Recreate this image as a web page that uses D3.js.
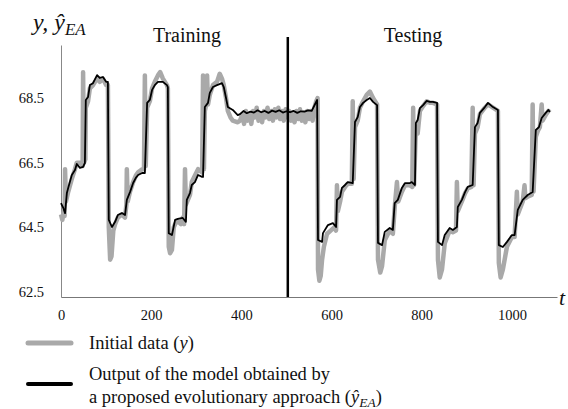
<!DOCTYPE html>
<html>

<head>
    <meta charset="utf-8">
    <title>Training / Testing</title>
    <script src="https://d3js.org/d3.v7.min.js"></script>
    <style>
        body {
            margin: 0;
            background: #fff;
        }

        svg text {
            font-family: "Liberation Serif", "Times New Roman", serif;
            fill: #111;
        }
    </style>
</head>

<body>
    <div class="inner"></div>
    <script>
        // [t, value]
        const initialData = [
            [0, 64.9], [3, 64.73], [6, 65.0], [8, 64.85], [9, 66.3], [11, 65.3], [16, 65.6], [24, 66.0], [31, 66.3],
            [35, 66.5], [42, 66.5], [48, 66.4], [49, 69.3], [51, 66.5], [54, 66.6], [55, 68.2], [60, 68.4],
            [64, 68.8], [71, 68.9], [80, 69.1], [86, 69.0], [93, 69.1], [100, 68.9], [104, 68.9], [106, 64.5],
            [109, 63.5], [112, 63.6], [116, 64.4], [120, 64.6], [126, 64.8], [135, 64.9], [142, 64.8], [145, 65.2],
            [146, 66.3], [148, 65.3], [153, 65.6], [160, 65.9], [166, 66.1], [171, 66.2], [180, 66.3], [184, 66.3],
            [186, 69.2], [188, 66.4], [191, 68.2], [197, 68.4], [202, 68.8], [208, 69.0], [215, 69.2], [220, 69.3],
            [226, 69.1], [235, 68.9], [237, 68.8], [239, 63.9], [242, 63.7], [246, 63.8], [250, 64.5], [253, 64.6],
            [259, 64.7], [266, 64.6], [270, 64.8], [273, 64.6], [275, 66.3], [277, 65.2], [286, 65.5], [290, 65.9],
            [297, 66.1], [304, 66.3], [313, 66.2], [315, 69.2], [317, 66.3], [319, 68.1], [322, 68.3], [324, 69.2],
            [326, 68.3], [330, 68.6], [337, 68.9], [346, 69.0], [352, 69.25], [357, 69.1], [361, 68.9], [366, 68.5],
            [370, 68.1], [376, 67.9], [381, 67.8], [392, 67.75], [397, 67.8], [402, 68.0], [406, 67.7], [410, 68.1],
            [414, 67.8], [418, 68.0], [422, 67.7], [426, 68.1], [430, 67.9], [434, 68.2], [438, 67.8], [442, 68.0],
            [446, 67.75], [450, 68.1], [454, 67.9], [458, 68.2], [462, 67.85], [466, 68.1], [470, 67.8], [474, 68.15],
            [478, 67.9], [482, 68.2], [486, 67.85], [490, 68.1], [494, 67.8], [498, 68.15], [502, 67.9], [506, 68.1],
            [510, 67.8], [514, 68.05], [518, 67.75], [522, 68.1], [526, 67.85], [530, 68.15], [534, 67.8], [538, 68.05],
            [542, 67.75], [546, 68.1], [550, 67.85], [554, 68.1], [558, 67.8], [562, 68.2], [566, 68.4], [569, 68.5],
            [570, 63.2], [573, 62.85], [576, 63.0], [579, 63.5], [583, 63.9], [590, 64.3], [598, 64.4], [606, 64.5],
            [610, 64.4], [612, 65.8], [614, 65.0], [619, 65.3], [623, 65.6], [630, 65.75], [636, 65.85], [645, 65.85],
            [647, 68.4], [649, 66.0], [652, 67.6], [658, 67.8], [663, 68.2], [670, 68.4], [678, 68.6], [685, 68.7],
            [692, 68.5], [701, 68.3], [703, 63.5], [708, 63.1], [712, 63.3], [718, 64.1], [729, 64.4], [736, 64.3],
            [740, 65.1], [745, 65.9], [748, 65.3], [756, 65.6], [763, 65.8], [774, 65.8], [779, 65.75], [781, 68.2],
            [783, 65.8], [787, 67.6], [791, 67.4], [796, 68.1], [803, 68.25], [811, 68.4], [818, 68.35], [825, 68.35],
            [834, 68.3], [836, 63.5], [840, 62.95], [845, 63.2], [851, 64.0], [862, 64.4], [869, 64.35], [876, 64.4],
            [878, 65.9], [880, 65.0], [889, 65.3], [896, 65.55], [902, 65.7], [910, 65.75], [913, 68.2], [915, 65.8],
            [918, 67.4], [924, 67.6], [929, 68.0], [940, 68.2], [947, 68.3], [958, 68.2], [969, 68.1], [971, 63.4],
            [975, 62.95], [980, 63.2], [989, 63.9], [1000, 64.2], [1006, 64.2], [1011, 65.6], [1013, 64.9], [1024, 65.3],
            [1028, 65.8], [1030, 65.4], [1035, 65.45], [1044, 65.5], [1046, 68.3], [1048, 65.6], [1053, 67.3], [1058, 67.5],
            [1062, 67.6], [1066, 68.3], [1068, 67.8], [1076, 68.0], [1081, 68.1], [1084, 68.05]
        ]

        const modelOutput = [
            [0, 65.25], [5, 65.1], [9, 64.94], [13, 65.56], [16, 65.72], [24, 66.12], [31, 66.27], [35, 66.46],
            [42, 66.34], [49, 66.37], [53, 66.49], [55, 68.44], [60, 68.53], [64, 68.9], [71, 68.96], [80, 69.21],
            [86, 69.12], [93, 69.15], [100, 69.0], [104, 69.0], [106, 64.73], [113, 64.51], [120, 64.67], [126, 64.88],
            [135, 64.94], [142, 64.88], [146, 65.35], [153, 65.59], [160, 65.87], [166, 66.03], [171, 66.12], [180, 66.18],
            [186, 66.18], [191, 68.35], [197, 68.44], [202, 68.75], [208, 68.9], [215, 69.0], [226, 69.0], [235, 68.9],
            [237, 68.84], [239, 64.32], [246, 64.26], [253, 64.73], [259, 64.76], [270, 64.79], [277, 64.67], [279, 65.35],
            [286, 65.56], [290, 65.81], [297, 65.9], [304, 66.12], [313, 66.06], [315, 66.06], [319, 68.22], [326, 68.35],
            [330, 68.66], [337, 68.84], [346, 68.9], [357, 68.96], [361, 68.84], [366, 68.5], [370, 68.22], [381, 68.13],
            [392, 67.97], [397, 68.0], [405, 68.1], [412, 68.03], [420, 68.08], [428, 68.05], [436, 68.12], [444, 68.06],
            [452, 68.1], [460, 68.04], [468, 68.11], [476, 68.07], [484, 68.12], [492, 68.05], [500, 68.09], [508, 68.06],
            [516, 68.1], [524, 68.04], [532, 68.09], [540, 68.08], [548, 68.12], [556, 68.1], [563, 68.3], [568, 68.44],
            [570, 64.11], [579, 64.05], [581, 64.32], [592, 64.57], [603, 64.63], [610, 64.51], [612, 65.35], [619, 65.44],
            [623, 65.72], [630, 65.81], [636, 65.9], [647, 65.87], [652, 67.76], [658, 67.91], [663, 68.22], [670, 68.35],
            [678, 68.44], [685, 68.5], [692, 68.38], [701, 68.28], [703, 64.02], [712, 63.95], [718, 64.36], [729, 64.48],
            [736, 64.42], [740, 65.25], [747, 65.35], [756, 65.72], [763, 65.87], [774, 65.87], [778, 65.9], [785, 65.81],
            [787, 67.73], [791, 67.82], [796, 68.19], [803, 68.28], [811, 68.41], [818, 68.38], [825, 68.38], [834, 68.35],
            [836, 64.05], [845, 63.95], [851, 64.26], [862, 64.48], [869, 64.42], [878, 64.51], [880, 65.13], [889, 65.35],
            [896, 65.59], [902, 65.75], [913, 65.81], [918, 67.6], [924, 67.73], [929, 68.04], [940, 68.22], [947, 68.35],
            [958, 68.22], [969, 68.13], [971, 63.95], [980, 63.89], [989, 64.05], [1000, 64.26], [1006, 64.26], [1013, 65.04],
            [1024, 65.35], [1035, 65.5], [1046, 65.59], [1053, 67.51], [1060, 67.6], [1066, 67.88], [1075, 68.04],
            [1081, 68.13], [1084, 68.07]
        ]

        const xTicks = [0, 200, 400, 600, 800, 1000]
        const yTicks = [62.5, 64.5, 66.5, 68.5]
        const splitAt = 503 // end of training part

        const w = 568
        const h = 409

        const xScale = d3.scaleLinear()
            .domain([0, 1100])
            .range([61, 557])

        const yScale = d3.scaleLinear()
            .domain([62.345, 70.14])
            .range([297, 45])

        const svg = d3.select(".inner")
            .append("svg")
            .attr("width", w)
            .attr("height", h)
            .attr("font-family", "Liberation Serif")

        const line = d3.line()
            .x(d => xScale(d[0]))
            .y(d => yScale(d[1]))

        // y axis: line + labels only
        const yAxis = d3.axisLeft(yScale).tickValues(yTicks).tickFormat(d3.format(".1f")).tickSize(0).tickPadding(17)
        const gy = svg.append("g")
            .attr("transform", "translate(" + xScale(0) + ",0)")
            .call(yAxis)
        gy.attr("font-family", "Liberation Serif").attr("font-size", 14.5)
        gy.select(".domain").attr("stroke", "#888").attr("stroke-width", 1)
        gy.selectAll("text").attr("fill", "#222")

        const xAxis = d3.axisBottom(xScale).tickValues(xTicks).tickFormat(d3.format("d")).tickSize(0).tickPadding(13)
        const gx = svg.append("g")
            .attr("transform", "translate(0," + yScale.range()[0] + ")")
            .call(xAxis)
        gx.attr("font-family", "Liberation Serif").attr("font-size", 14.5)
        gx.select(".domain").attr("stroke", "#777").attr("stroke-width", 1)
        gx.selectAll("text").attr("fill", "#222")

        svg.append("path")
            .datum(initialData)
            .attr("fill", "none")
            .attr("stroke", "#a9a9a9")
            .attr("stroke-width", 4.5)
            .attr("stroke-linejoin", "round")
            .attr("d", line)

        svg.append("path")
            .datum(modelOutput)
            .attr("fill", "none")
            .attr("stroke", "#000")
            .attr("stroke-width", 1.8)
            .attr("stroke-linejoin", "round")
            .attr("d", line)

        // split line between training and testing
        svg.append("line")
            .attr("x1", xScale(splitAt))
            .attr("x2", xScale(splitAt))
            .attr("y1", 37)
            .attr("y2", yScale.range()[0])
            .attr("stroke", "#000")
            .attr("stroke-width", 2.5)

        svg.append("text")
            .attr("x", 187).attr("y", 42)
            .attr("text-anchor", "middle")
            .style("font-size", "20px")
            .text("Training")

        svg.append("text")
            .attr("x", 413).attr("y", 42)
            .attr("text-anchor", "middle")
            .style("font-size", "20px")
            .text("Testing")

        // axis names
        const yLabel = svg.append("text")
            .attr("x", 33).attr("y", 30)
            .style("font-size", "24px")
            .style("font-style", "italic")
        yLabel.append("tspan").text("y, ŷ")
        yLabel.append("tspan").attr("dy", 5).style("font-size", "17px").text("EA")

        svg.append("text")
            .attr("x", 559).attr("y", 305)
            .style("font-size", "22px")
            .style("font-style", "italic")
            .text("t")

        // legend
        svg.append("line")
            .attr("x1", 28).attr("x2", 71).attr("y1", 343).attr("y2", 343)
            .attr("stroke", "#a9a9a9").attr("stroke-width", 5).attr("stroke-linecap", "round")

        const lg1 = svg.append("text")
            .attr("x", 89).attr("y", 349)
            .style("font-size", "18.5px")
        lg1.append("tspan").text("Initial data (")
        lg1.append("tspan").style("font-style", "italic").text("y")
        lg1.append("tspan").text(")")

        svg.append("line")
            .attr("x1", 28).attr("x2", 71).attr("y1", 384).attr("y2", 384)
            .attr("stroke", "#000").attr("stroke-width", 4).attr("stroke-linecap", "round")

        svg.append("text")
            .attr("x", 89).attr("y", 380)
            .style("font-size", "18.5px")
            .text("Output of the model obtained by")

        const lg2 = svg.append("text")
            .attr("x", 89).attr("y", 403)
            .style("font-size", "18.5px")
        lg2.append("tspan").text("a proposed evolutionary approach (")
        lg2.append("tspan").style("font-style", "italic").text("ŷ")
        lg2.append("tspan").attr("dy", 4).style("font-size", "13.5px").style("font-style", "italic").text("EA")
        lg2.append("tspan").attr("dy", -4).text(")")
    </script>
</body>

</html>
